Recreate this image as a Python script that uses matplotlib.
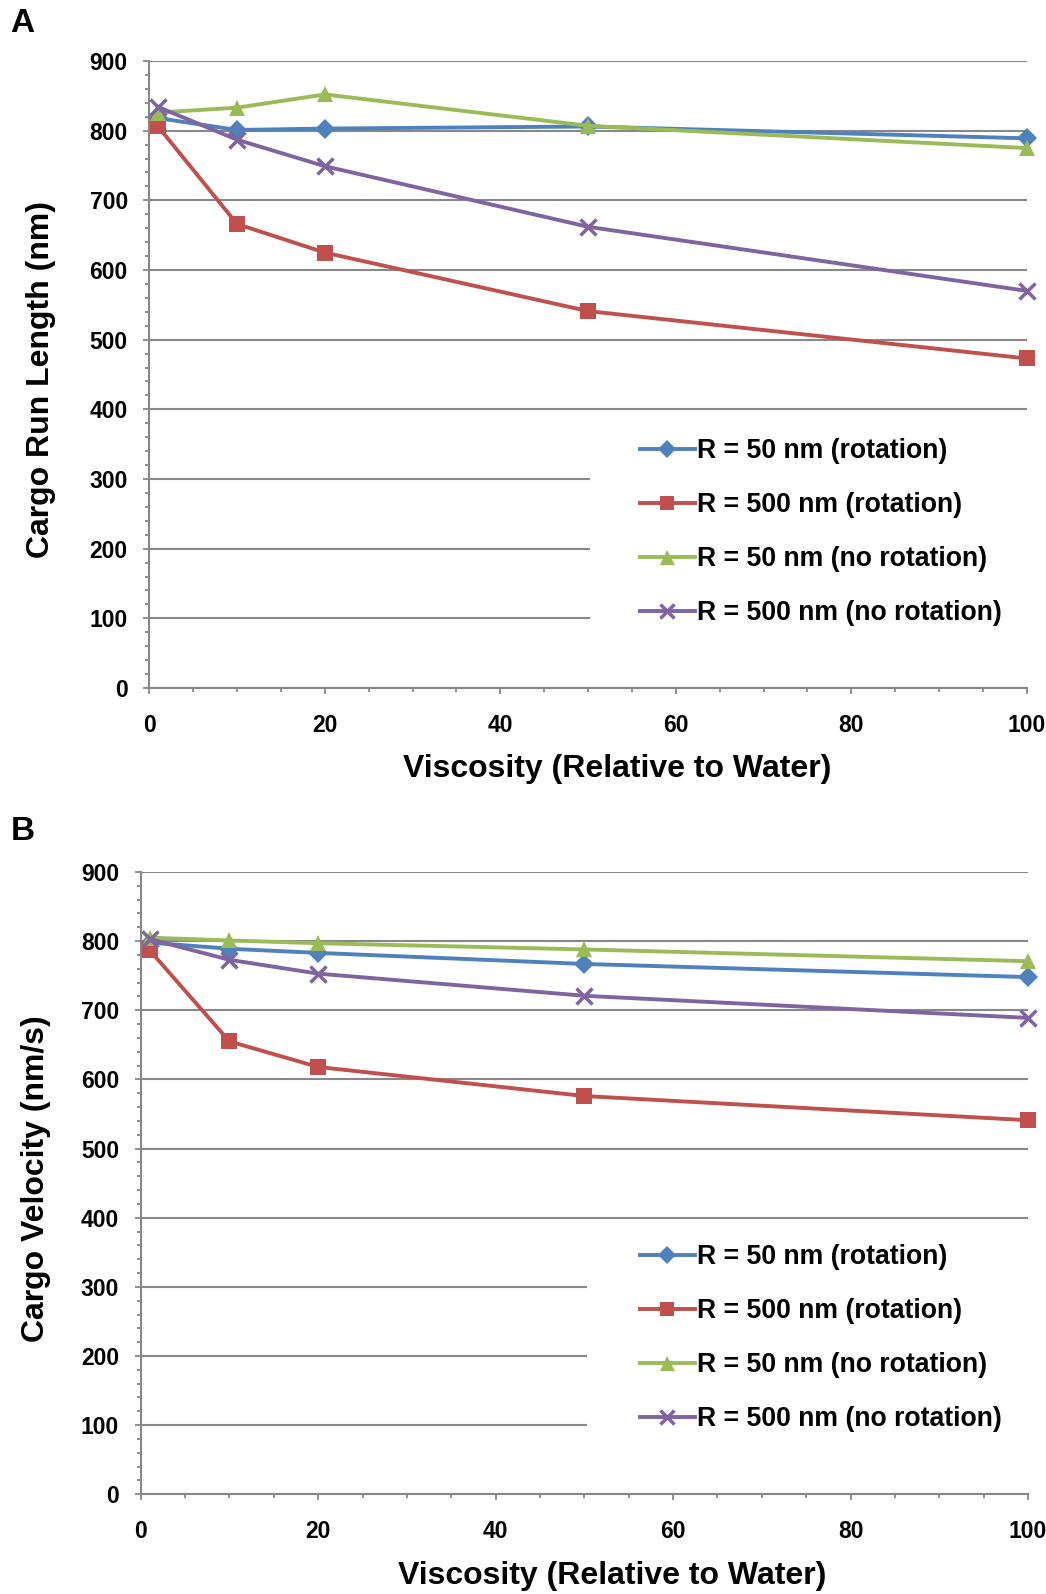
import matplotlib
matplotlib.use("Agg")
import matplotlib.pyplot as plt
from matplotlib.ticker import MultipleLocator
from matplotlib.patches import Rectangle

plt.rcParams['font.family'] = ['Liberation Sans', 'DejaVu Sans']
plt.rcParams['font.weight'] = 'bold'

# ---- data ----
viscosity = [1, 10, 20, 50, 100]
series_labels = ["R = 50 nm (rotation)", "R = 500 nm (rotation)",
                 "R = 50 nm (no rotation)", "R = 500 nm (no rotation)"]

run_r50_rot = [818, 801, 803, 806, 789]
run_r500_rot = [806, 666, 625, 541, 473]
run_r50_norot = [826, 833, 852, 807, 775]
run_r500_norot = [834, 787, 749, 662, 570]

vel_r50_rot = [798, 789, 783, 767, 748]
vel_r500_rot = [787, 655, 618, 576, 541]
vel_r50_norot = [805, 801, 797, 788, 771]
vel_r500_norot = [803, 773, 753, 721, 689]

y_ticks = [0, 100, 200, 300, 400, 500, 600, 700, 800, 900]
x_ticks = [0, 20, 40, 60, 80, 100]

# ---- style ----
colors = ["#4F81BD", "#C0504D", "#9BBB59", "#8064A2"]
markers = ["D", "s", "^", "x"]
msizes = [10, 11, 12, 11]
grid_col = "#888888"

W, H = 1046, 1594
fig = plt.figure(figsize=(W / 100, H / 100), dpi=100)


def px(x, y):
    return x / W, 1 - y / H


def make_panel(rect_px, data, ylabel, letter, letter_pos, xlabel_pos, ylabel_pos, legend_pos):
    x0, y0, x1, y1 = rect_px  # left, top, right, bottom in pixels
    ax = fig.add_axes([x0 / W, 1 - y1 / H, (x1 - x0) / W, (y1 - y0) / H])
    ax.set_xlim(0, 100)
    ax.set_ylim(0, 900)
    ax.set_xticks(x_ticks)
    ax.set_yticks(y_ticks)
    ax.xaxis.set_minor_locator(MultipleLocator(5))
    ax.yaxis.set_minor_locator(MultipleLocator(20))
    ax.tick_params(axis='both', which='major', direction='out', length=4.5, width=1.3,
                   color=grid_col, labelsize=16.5)
    ax.tick_params(axis='both', which='minor', direction='out', length=3.2, width=1.3,
                   color=grid_col)
    ax.tick_params(axis='y', which='major', pad=11)
    ax.tick_params(axis='x', which='major', pad=14)
    for lab in ax.get_xticklabels() + ax.get_yticklabels():
        lab.set_fontweight('bold')
    for s in ['top', 'right']:
        ax.spines[s].set_visible(False)
    for s in ['left', 'bottom']:
        ax.spines[s].set_color(grid_col)
        ax.spines[s].set_linewidth(1.5)
    ax.yaxis.grid(True, color=grid_col, linewidth=1.5, zorder=0)
    ax.set_axisbelow(True)

    # white legend backdrop hiding the gridlines
    lx = (legend_pos[2] - x0) / (x1 - x0)
    ax.add_patch(Rectangle((lx, 0.02), 1.1 - lx, legend_pos[3], transform=ax.transAxes,
                           facecolor='white', edgecolor='none', zorder=1.5, clip_on=False))

    handles = []
    for vals, c, m, ms, lab in zip(data, colors, markers, msizes, series_labels):
        kw = dict(color=c, linewidth=2.8, marker=m, markersize=ms, label=lab, clip_on=False,
                  zorder=3)
        if m == 'x':
            kw.update(markeredgewidth=2.5)
        else:
            kw.update(markeredgewidth=0)
        h, = ax.plot(viscosity, vals, **kw)
        handles.append(h)

    ax.legend(handles=handles, loc='center left',
              bbox_to_anchor=px(legend_pos[0], legend_pos[1]),
              bbox_transform=fig.transFigure, frameon=False,
              prop={'family': 'Liberation Sans', 'weight': 'bold', 'size': 19.2},
              handlelength=2.05, handletextpad=0.1, labelspacing=1.05,
              borderpad=0, borderaxespad=0, markerscale=0.9)

    fig.text(*px(*xlabel_pos), "Viscosity (Relative to Water)", ha='center', va='center',
             fontsize=23, fontweight='bold')
    fig.text(*px(*ylabel_pos), ylabel, ha='center', va='center', rotation=90,
             fontsize=23, fontweight='bold')
    fig.text(*px(*letter_pos), letter, ha='center', va='center', fontsize=24,
             fontweight='bold')
    return ax


make_panel((149.3, 61, 1026.8, 688),
           [run_r50_rot, run_r500_rot, run_r50_norot, run_r500_norot],
           "Cargo Run Length (nm)", "A", (22.4, 23), (617, 769.5), (40.7, 380),
           (640, 532, 590, 0.40))

make_panel((140.7, 872, 1028, 1494.3),
           [vel_r50_rot, vel_r500_rot, vel_r50_norot, vel_r500_norot],
           "Cargo Velocity (nm/s)", "B", (22.4, 832), (612.5, 1575.6), (35.6, 1179),
           (640, 1338, 587, 0.40))

fig.savefig("out.png", dpi=100)
